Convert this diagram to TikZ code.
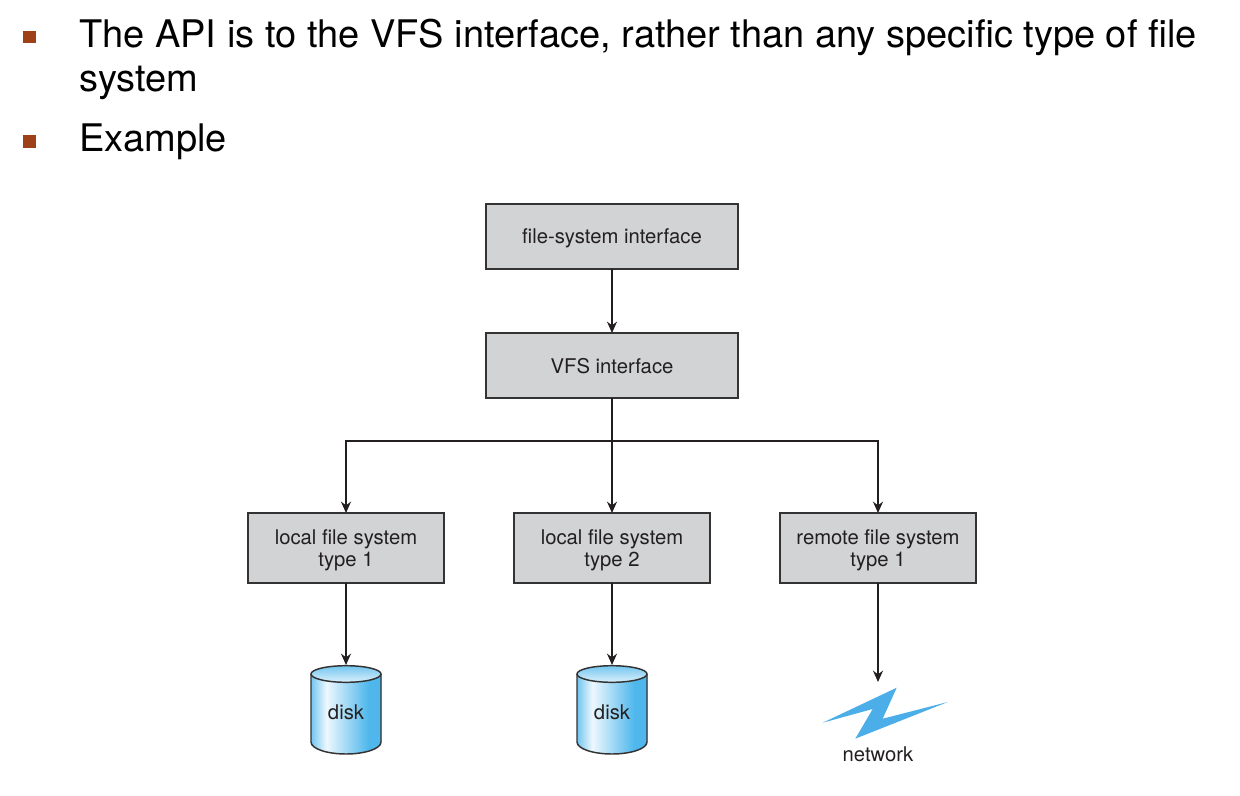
\documentclass[tikz,border=0pt]{standalone}
\usepackage{fontspec}
\setmainfont{TeX Gyre Heros}
\usetikzlibrary{arrows.meta}
\definecolor{boxgray}{HTML}{D1D3D4}
\definecolor{boxline}{HTML}{333333}
\definecolor{bulletred}{HTML}{9E4119}
\definecolor{diskblue}{HTML}{4FB7EC}
\definecolor{boltblue}{HTML}{4BAEE9}
\definecolor{inkblack}{HTML}{231F20}
\pgfdeclarehorizontalshading{diskside}{100bp}{color(0bp)=(diskblue);color(25bp)=(diskblue!80);color(36bp)=(diskblue!10);color(66bp)=(diskblue);color(100bp)=(diskblue)}
\tikzset{
	fsbox/.style={draw=boxline,fill=boxgray,line width=1pt,outer sep=0pt,inner sep=0pt,align=center,text depth=0pt,font=\fontsize{15.2}{16.5}\selectfont,text=inkblack},
	flow/.style={draw=inkblack,line width=1.6pt,-{Stealth[length=8.5pt,width=7.5pt]}},
	plainflow/.style={draw=inkblack,line width=1.6pt},
	bullettext/.style={anchor=base west,inner sep=0pt,font=\fontsize{28.5}{33}\selectfont,text=black},
	bulletmark/.style={fill=bulletred,inner sep=0pt,minimum size=9.4pt,outer sep=0pt},
	disklabel/.style={minimum width=52.5pt,minimum height=66pt,inner sep=0pt,outer sep=0pt,font=\fontsize{15.2}{16.5}\selectfont,text=inkblack}
}
% one cylinder, x and y are the centre of the top ellipse
\newcommand{\diskshape}[2]{
	\fill[shading=diskside] (#1-35,#2) -- (#1-35,#2+68) arc[start angle=180,end angle=0,x radius=35,y radius=12] -- (#1+35,#2) -- cycle;
	\shade[top color=diskblue!80,bottom color=diskblue!20] (#1,#2) ellipse[x radius=35,y radius=8.3];
	\draw[boxline,line width=1.1pt] (#1-35,#2) -- (#1-35,#2+68) arc[start angle=180,end angle=0,x radius=35,y radius=12] -- (#1+35,#2);
	\draw[boxline,line width=1.1pt] (#1,#2) ellipse[x radius=35,y radius=8.3];
}
\begin{document}
\begin{tikzpicture}[x=0.75pt,y=-0.75pt]
	\useasboundingbox (0,0) rectangle (1240,796);
	% bullets
	\node[bulletmark] (markone) at (29.5,37) {};
	\node[bulletmark] (marktwo) at (29.5,141.5) {};
	\node[bullettext] (lineone) at (79,47) {The API is to the VFS interface, rather than any specific type of file};
	\node[bullettext] (linetwo) at (79,91) {system};
	\node[bullettext] (linethree) at (79,151) {Example};
	% boxes
	\node[fsbox,minimum width=189pt,minimum height=48.75pt] (fsi) at (612,236.5) {file-system interface};
	\node[fsbox,minimum width=189pt,minimum height=48.75pt] (vfs) at (612,365.5) {VFS interface};
	\node[fsbox,minimum width=147pt,minimum height=52.5pt] (localone) at (346,548) {local file system\\type 1};
	\node[fsbox,minimum width=147pt,minimum height=52.5pt] (localtwo) at (612,548) {local file system\\type 2};
	\node[fsbox,minimum width=147pt,minimum height=52.5pt] (remote) at (878,548) {remote file system\\type 1};
	% disks
	\diskshape{346}{674}
	\diskshape{612}{674}
	\node[disklabel] (diskone) at (346,712) {disk};
	\node[disklabel] (disktwo) at (612,712) {disk};
	% network
	\fill[boltblue] (822.7,722.7) -- (896.7,687.7) -- (882.7,718.7) -- (947.8,702) -- (855.3,738.7) -- (872.7,709) -- cycle;
	\coordinate (bolt) at (878,682);
	\node[inner sep=0pt,font=\fontsize{15.2}{16.5}\selectfont,text=inkblack] (network) at (878,754) {network};
	% connectors
	\coordinate (bus) at (612,441);
	\coordinate (disktopone) at (346,665);
	\coordinate (disktoptwo) at (612,665);
	\draw[flow] (fsi) -- (vfs);
	\draw[plainflow] (vfs) -- (bus);
	\draw[flow] (bus) -| (localone);
	\draw[flow] (bus) -- (localtwo);
	\draw[flow] (bus) -| (remote);
	\draw[flow] (localone) -- (disktopone);
	\draw[flow] (localtwo) -- (disktoptwo);
	\draw[flow] (remote) -- (bolt);
\end{tikzpicture}
\end{document}
